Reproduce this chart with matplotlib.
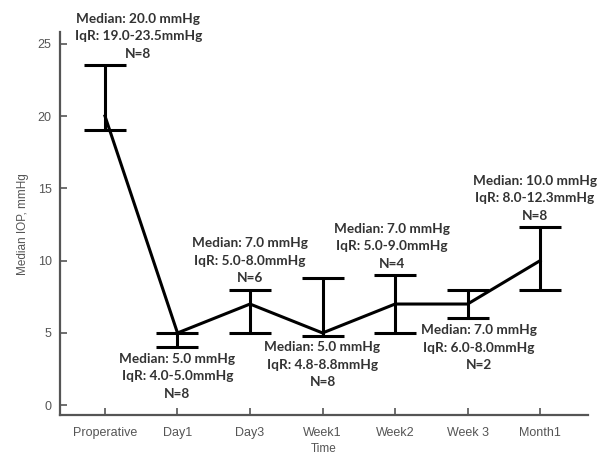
import matplotlib.pyplot as plt
import numpy as np

timepoints = ["Properative", "Day1", "Day3", "Week1", "Week2", "Week 3", "Month1"]
median_iop = [20.0, 5.0, 7.0, 5.0, 7.0, 7.0, 10.0]
iqr_low = [19.0, 4.0, 5.0, 4.8, 5.0, 6.0, 8.0]
iqr_high = [23.5, 5.0, 8.0, 8.8, 9.0, 8.0, 12.3]
n_patients = [8, 8, 6, 8, 4, 2, 8]
label_above = [True, False, True, False, True, False, True]

plt.rcParams['font.family'] = ['Liberation Sans', 'DejaVu Sans']

fig, ax = plt.subplots(figsize=(6, 4.59), dpi=100)
fig.subplots_adjust(left=0.1, right=0.98, bottom=0.095, top=0.93)

x = np.arange(len(timepoints))
med = np.array(median_iop)
lo = med - np.array(iqr_low)
hi = np.array(iqr_high) - med

ax.errorbar(x, med, yerr=[lo, hi], color='black', lw=2.2, elinewidth=2.2,
            capsize=15, capthick=2.2, zorder=3)

# x offsets (points) for the stat boxes
xoff = [24, 0, 0, 0, -2, 8, -4]
for i in range(len(x)):
    txt = "Median: %.1f mmHg\nIqR: %.1f-%.1fmmHg\nN=%d" % (
        median_iop[i], iqr_low[i], iqr_high[i], n_patients[i])
    if label_above[i]:
        ax.annotate(txt, (x[i], iqr_high[i]), xytext=(xoff[i], 4),
                    textcoords='offset points', ha='center', va='bottom',
                    fontsize=9.8, fontweight='bold', color='#333333',
                    linespacing=1.55, family=['Lato', 'DejaVu Sans'])
    else:
        ax.annotate(txt, (x[i], iqr_low[i]), xytext=(xoff[i], -4),
                    textcoords='offset points', ha='center', va='top',
                    fontsize=9.8, fontweight='bold', color='#333333',
                    linespacing=1.55, family=['Lato', 'DejaVu Sans'])

ax.set_xlim(-0.62, 6.66)
ax.set_ylim(-0.7, 25.8)
ax.set_xticks(x)
ax.set_xticklabels(timepoints)
ax.set_yticks([0, 5, 10, 15, 20, 25])
ax.tick_params(direction='in', length=5, width=1.2, colors='#555555',
               labelsize=9, labelcolor='#555555')
ax.tick_params(axis='x', pad=8)
ax.tick_params(axis='y', pad=6)
ax.set_xlabel("Time", fontsize=8.5, color='#555555', labelpad=3)
ax.set_ylabel("Median IOP, mmHg", fontsize=8.5, color='#555555', labelpad=6)

for s in ['top', 'right']:
    ax.spines[s].set_visible(False)
for s in ['left', 'bottom']:
    ax.spines[s].set_linewidth(1.6)
    ax.spines[s].set_color('#555555')

fig.savefig("out.png", dpi=100)
